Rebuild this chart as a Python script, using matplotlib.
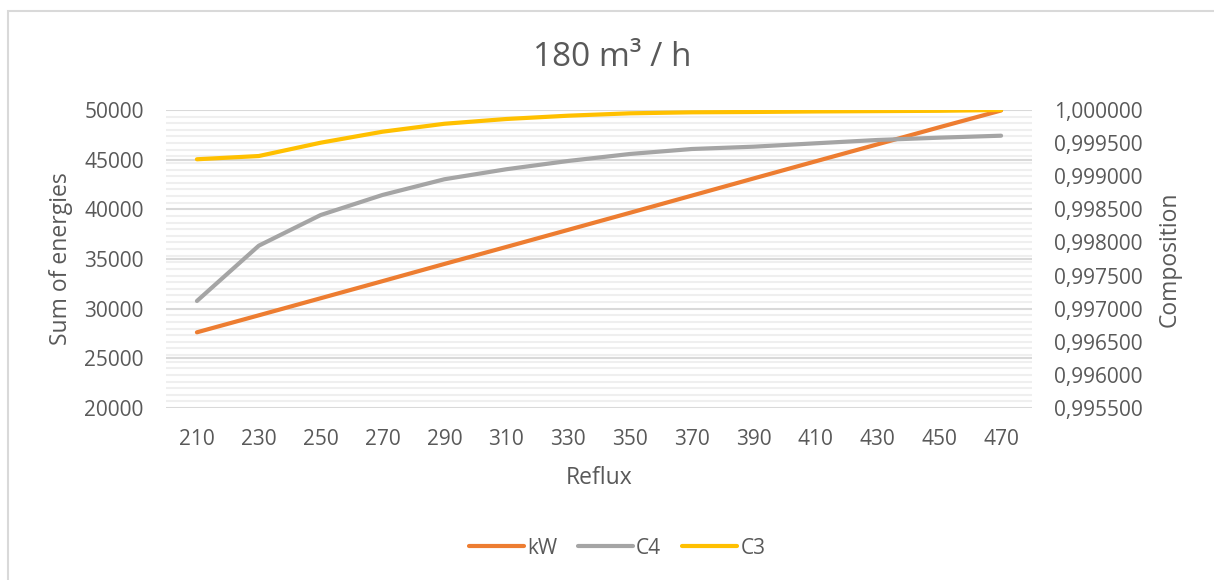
import matplotlib
matplotlib.use("Agg")
import matplotlib.pyplot as plt
from matplotlib.ticker import MultipleLocator, FuncFormatter
from matplotlib.patches import Rectangle

plt.rcParams["font.family"] = ["Open Sans", "DejaVu Sans"]

# Reflux values and series
reflux = [210, 230, 250, 270, 290, 310, 330, 350, 370, 390, 410, 430, 450, 470]
kw = [27620, 29330, 31050, 32770, 34500, 36210, 37930, 39650, 41380, 43110,
      44830, 46540, 48260, 49950]
c4 = [0.997116, 0.997951, 0.998414, 0.998717, 0.998954, 0.999105, 0.999230,
      0.999336, 0.999411, 0.999446, 0.999497, 0.999547, 0.999582, 0.999612]
c3 = [0.999256, 0.999305, 0.999506, 0.999672, 0.999792, 0.999864, 0.999914,
      0.999950, 0.999965, 0.999970, 0.999978, 0.999983, 0.999988, 1.000000]

text_col = "#595959"
orange = "#ED7D31"
gray = "#A5A5A5"
yellow = "#FFC000"

fig = plt.figure(figsize=(12.14, 5.8), dpi=100)

# chart frame (top and left edges visible)
fig.patches.append(Rectangle((8 / 1214, -0.1), 1.2, 1 - 11 / 580 + 0.1,
                             transform=fig.transFigure, fill=False,
                             edgecolor="#d9d9d9", linewidth=1.5))

ax = fig.add_axes([166 / 1214, 1 - 408 / 580, 866 / 1214, 298 / 580])
ax2 = ax.twinx()

x = list(range(len(reflux)))

ax.plot(x, kw, color=orange, lw=3.0, solid_capstyle="round", label="kW")
ax2.plot(x, c4, color=gray, lw=3.0, solid_capstyle="round", label="C4")
ax2.plot(x, c3, color=yellow, lw=3.0, solid_capstyle="round", label="C3")

ax.set_xlim(-0.5, len(reflux) - 0.5)
ax.set_ylim(20000, 50000)
ax2.set_ylim(0.9955, 1.0)

ax.yaxis.set_major_locator(MultipleLocator(5000))
# minor lines follow the 0.0001 steps of the composition axis
ax.yaxis.set_minor_locator(MultipleLocator(30000 / 45))
ax2.yaxis.set_major_locator(MultipleLocator(0.0005))
ax2.yaxis.set_major_formatter(FuncFormatter(lambda v, p: f"{v:.6f}".replace(".", ",")))

ax.set_xticks(x)
ax.set_xticklabels([str(r) for r in reflux])

ax.grid(True, which="minor", axis="y", color="#efefef", lw=1.5)
ax.grid(True, which="major", axis="y", color="#d9d9d9", lw=1.5)
ax.set_axisbelow(True)

for a in (ax, ax2):
    for s in a.spines.values():
        s.set_visible(False)
    a.tick_params(which="both", length=0, labelsize=15, colors=text_col)
ax.tick_params(axis="y", pad=16)
ax.tick_params(axis="x", pad=15)
ax2.tick_params(axis="y", pad=16)

fig.text(612 / 1214, 1 - 57 / 580, "180 m³ / h", ha="center", va="center",
         fontsize=24, color=text_col)
fig.text(61 / 1214, 1 - 259 / 580, "Sum of energies", rotation=90,
         ha="center", va="center", fontsize=16.5, color=text_col)
fig.text(1170 / 1214, 1 - 259 / 580, "Composition", rotation=90,
         ha="center", va="center", fontsize=16.5, color=text_col)
fig.text(599 / 1214, 1 - 478 / 580, "Reflux", ha="center", va="center",
         fontsize=16.5, color=text_col)

h1, l1 = ax.get_legend_handles_labels()
h2, l2 = ax2.get_legend_handles_labels()
leg = fig.legend(h1 + h2, l1 + l2, loc="center", bbox_to_anchor=(617 / 1214, 1 - 548 / 580),
                 ncol=3, frameon=False, fontsize=15, handlelength=2.65,
                 handletextpad=0.15, columnspacing=1.0)
for t in leg.get_texts():
    t.set_color(text_col)

fig.savefig("out.png", dpi=100)
